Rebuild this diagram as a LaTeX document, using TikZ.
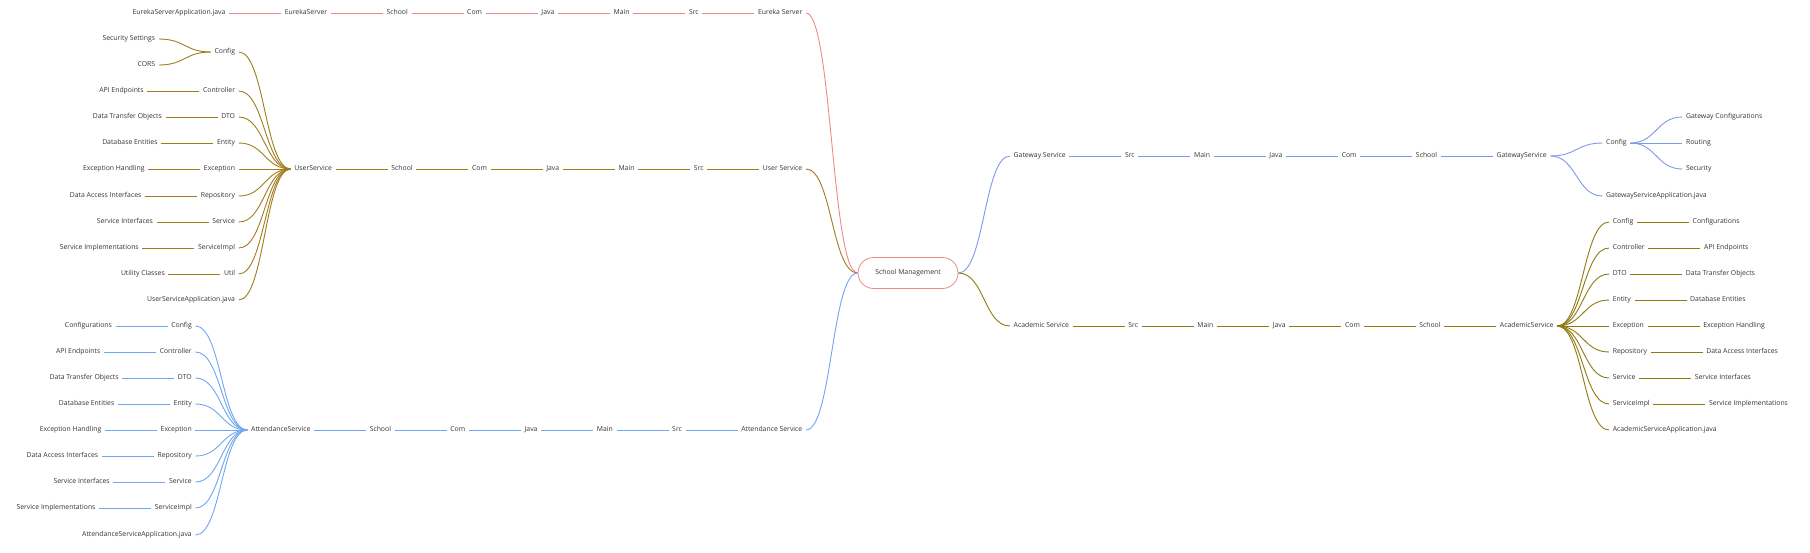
\documentclass[tikz,border=0pt]{standalone}
\usepackage{fontspec}
\setmainfont{Open Sans}
\usetikzlibrary{positioning}
\definecolor{cEur}{HTML}{EC8A8A}
\definecolor{cUsr}{HTML}{A07C1C}
\definecolor{cAtt}{HTML}{6EA6F0}
\definecolor{cGw}{HTML}{7B9AE8}
\definecolor{cAcd}{HTML}{8E7A0E}
\definecolor{txtc}{HTML}{333333}
\tikzset{
 txt/.style={inner xsep=3.5pt, inner ysep=0pt, text height=5.1pt, text depth=1.7pt, font=\fontsize{6.85}{8}\selectfont, text=txtc},
 rootbox/.style={draw=cEur, line width=0.8pt, rounded corners=15.5pt, minimum width=100pt, minimum height=31pt, inner sep=0pt, font=\fontsize{6.85}{8}\selectfont, text=txtc},
 lnk/.style={line width=0.9pt},
}
\newcommand\lkid[4]{\path ([xshift=-52pt]#2.west) coordinate (tmpx); \path (0,-#3) coordinate (tmpy); \node[txt,anchor=east] (#1) at (tmpx |- tmpy) {#4};}
\newcommand\rkid[4]{\path ([xshift=52pt]#2.east) coordinate (tmpx); \path (0,-#3) coordinate (tmpy); \node[txt,anchor=west] (#1) at (tmpx |- tmpy) {#4};}
\newcommand\lcurve[3]{\draw[lnk,#1] (#2.west) .. controls +(-26,0) and +(26,0) .. (#3.east);}
\newcommand\rcurve[3]{\draw[lnk,#1] (#2.east) .. controls +(26,0) and +(-26,0) .. (#3.west);}
\newcommand\lline[3]{\draw[lnk,#1] (#2.west) -- (#3.east);}
\newcommand\rline[3]{\draw[lnk,#1] (#2.east) -- (#3.west);}
\begin{document}
\begin{tikzpicture}[x=1pt,y=1pt]
\useasboundingbox (0,0) rectangle (1810,-552);
\node[rootbox] (root) at (908,-273) {School Management};

% ---------------- Eureka Server ----------------
\node[txt,anchor=east] (e0) at (806,-13) {Eureka Server};
\node[txt,left=52pt of e0] (e1) {Src};
\node[txt,left=52pt of e1] (e2) {Main};
\node[txt,left=52pt of e2] (e3) {Java};
\node[txt,left=52pt of e3] (e4) {Com};
\node[txt,left=52pt of e4] (e5) {School};
\node[txt,left=52pt of e5] (e6) {EurekaServer};
\node[txt,left=52pt of e6] (e7) {EurekaServerApplication.java};
\lcurve{cEur}{root}{e0}
\lline{cEur}{e0}{e1}\lline{cEur}{e1}{e2}\lline{cEur}{e2}{e3}\lline{cEur}{e3}{e4}
\lline{cEur}{e4}{e5}\lline{cEur}{e5}{e6}\lline{cEur}{e6}{e7}

% ---------------- User Service ----------------
\node[txt,anchor=east] (u0) at (806,-169) {User Service};
\node[txt,left=52pt of u0] (u1) {Src};
\node[txt,left=52pt of u1] (u2) {Main};
\node[txt,left=52pt of u2] (u3) {Java};
\node[txt,left=52pt of u3] (u4) {Com};
\node[txt,left=52pt of u4] (u5) {School};
\node[txt,left=52pt of u5] (u6) {UserService};
\lcurve{cUsr}{root}{u0}
\lline{cUsr}{u0}{u1}\lline{cUsr}{u1}{u2}\lline{cUsr}{u2}{u3}\lline{cUsr}{u3}{u4}
\lline{cUsr}{u4}{u5}\lline{cUsr}{u5}{u6}
\lkid{uc1}{u6}{52}{Config}
\lkid{uc2}{u6}{91}{Controller}
\lkid{uc3}{u6}{117}{DTO}
\lkid{uc4}{u6}{143}{Entity}
\lkid{uc5}{u6}{169}{Exception}
\lkid{uc6}{u6}{196}{Repository}
\lkid{uc7}{u6}{222}{Service}
\lkid{uc8}{u6}{248}{ServiceImpl}
\lkid{uc9}{u6}{274}{Util}
\lkid{uc10}{u6}{300}{UserServiceApplication.java}
\foreach \k in {1,...,10} {\lcurve{cUsr}{u6}{uc\k}}
\lkid{ug1a}{uc1}{39}{Security Settings}
\lkid{ug1b}{uc1}{65}{CORS}
\lcurve{cUsr}{uc1}{ug1a}\lcurve{cUsr}{uc1}{ug1b}
\node[txt,left=52pt of uc2] (ug2) {API Endpoints};
\node[txt,left=52pt of uc3] (ug3) {Data Transfer Objects};
\node[txt,left=52pt of uc4] (ug4) {Database Entities};
\node[txt,left=52pt of uc5] (ug5) {Exception Handling};
\node[txt,left=52pt of uc6] (ug6) {Data Access Interfaces};
\node[txt,left=52pt of uc7] (ug7) {Service Interfaces};
\node[txt,left=52pt of uc8] (ug8) {Service Implementations};
\node[txt,left=52pt of uc9] (ug9) {Utility Classes};
\foreach \k in {2,...,9} {\lline{cUsr}{uc\k}{ug\k}}

% ---------------- Attendance Service ----------------
\node[txt,anchor=east] (a0) at (806,-430) {Attendance Service};
\node[txt,left=52pt of a0] (a1) {Src};
\node[txt,left=52pt of a1] (a2) {Main};
\node[txt,left=52pt of a2] (a3) {Java};
\node[txt,left=52pt of a3] (a4) {Com};
\node[txt,left=52pt of a4] (a5) {School};
\node[txt,left=52pt of a5] (a6) {AttendanceService};
\lcurve{cAtt}{root}{a0}
\lline{cAtt}{a0}{a1}\lline{cAtt}{a1}{a2}\lline{cAtt}{a2}{a3}\lline{cAtt}{a3}{a4}
\lline{cAtt}{a4}{a5}\lline{cAtt}{a5}{a6}
\lkid{ac1}{a6}{326}{Config}
\lkid{ac2}{a6}{352}{Controller}
\lkid{ac3}{a6}{378}{DTO}
\lkid{ac4}{a6}{404}{Entity}
\lkid{ac5}{a6}{430}{Exception}
\lkid{ac6}{a6}{456}{Repository}
\lkid{ac7}{a6}{482}{Service}
\lkid{ac8}{a6}{508}{ServiceImpl}
\lkid{ac9}{a6}{535}{AttendanceServiceApplication.java}
\foreach \k in {1,...,9} {\lcurve{cAtt}{a6}{ac\k}}
\node[txt,left=52pt of ac1] (ag1) {Configurations};
\node[txt,left=52pt of ac2] (ag2) {API Endpoints};
\node[txt,left=52pt of ac3] (ag3) {Data Transfer Objects};
\node[txt,left=52pt of ac4] (ag4) {Database Entities};
\node[txt,left=52pt of ac5] (ag5) {Exception Handling};
\node[txt,left=52pt of ac6] (ag6) {Data Access Interfaces};
\node[txt,left=52pt of ac7] (ag7) {Service Interfaces};
\node[txt,left=52pt of ac8] (ag8) {Service Implementations};
\foreach \k in {1,...,8} {\lline{cAtt}{ac\k}{ag\k}}

% ---------------- Gateway Service ----------------
\node[txt,anchor=west] (g0) at (1010,-156) {Gateway Service};
\node[txt,right=52pt of g0] (g1) {Src};
\node[txt,right=52pt of g1] (g2) {Main};
\node[txt,right=52pt of g2] (g3) {Java};
\node[txt,right=52pt of g3] (g4) {Com};
\node[txt,right=52pt of g4] (g5) {School};
\node[txt,right=52pt of g5] (g6) {GatewayService};
\rcurve{cGw}{root}{g0}
\rline{cGw}{g0}{g1}\rline{cGw}{g1}{g2}\rline{cGw}{g2}{g3}\rline{cGw}{g3}{g4}
\rline{cGw}{g4}{g5}\rline{cGw}{g5}{g6}
\rkid{gc1}{g6}{143}{Config}
\rkid{gc2}{g6}{196}{GatewayServiceApplication.java}
\rcurve{cGw}{g6}{gc1}\rcurve{cGw}{g6}{gc2}
\rkid{gg1}{gc1}{117}{Gateway Configurations}
\rkid{gg2}{gc1}{143}{Routing}
\rkid{gg3}{gc1}{169}{Security}
\foreach \k in {1,2,3} {\rcurve{cGw}{gc1}{gg\k}}

% ---------------- Academic Service ----------------
\node[txt,anchor=west] (k0) at (1010,-326) {Academic Service};
\node[txt,right=52pt of k0] (k1) {Src};
\node[txt,right=52pt of k1] (k2) {Main};
\node[txt,right=52pt of k2] (k3) {Java};
\node[txt,right=52pt of k3] (k4) {Com};
\node[txt,right=52pt of k4] (k5) {School};
\node[txt,right=52pt of k5] (k6) {AcademicService};
\rcurve{cAcd}{root}{k0}
\rline{cAcd}{k0}{k1}\rline{cAcd}{k1}{k2}\rline{cAcd}{k2}{k3}\rline{cAcd}{k3}{k4}
\rline{cAcd}{k4}{k5}\rline{cAcd}{k5}{k6}
\rkid{kc1}{k6}{222}{Config}
\rkid{kc2}{k6}{248}{Controller}
\rkid{kc3}{k6}{274}{DTO}
\rkid{kc4}{k6}{300}{Entity}
\rkid{kc5}{k6}{326}{Exception}
\rkid{kc6}{k6}{352}{Repository}
\rkid{kc7}{k6}{378}{Service}
\rkid{kc8}{k6}{404}{ServiceImpl}
\rkid{kc9}{k6}{430}{AcademicServiceApplication.java}
\foreach \k in {1,...,9} {\rcurve{cAcd}{k6}{kc\k}}
\node[txt,right=52pt of kc1] (kg1) {Configurations};
\node[txt,right=52pt of kc2] (kg2) {API Endpoints};
\node[txt,right=52pt of kc3] (kg3) {Data Transfer Objects};
\node[txt,right=52pt of kc4] (kg4) {Database Entities};
\node[txt,right=52pt of kc5] (kg5) {Exception Handling};
\node[txt,right=52pt of kc6] (kg6) {Data Access Interfaces};
\node[txt,right=52pt of kc7] (kg7) {Service Interfaces};
\node[txt,right=52pt of kc8] (kg8) {Service Implementations};
\foreach \k in {1,...,8} {\rline{cAcd}{kc\k}{kg\k}}
\end{tikzpicture}
\end{document}
